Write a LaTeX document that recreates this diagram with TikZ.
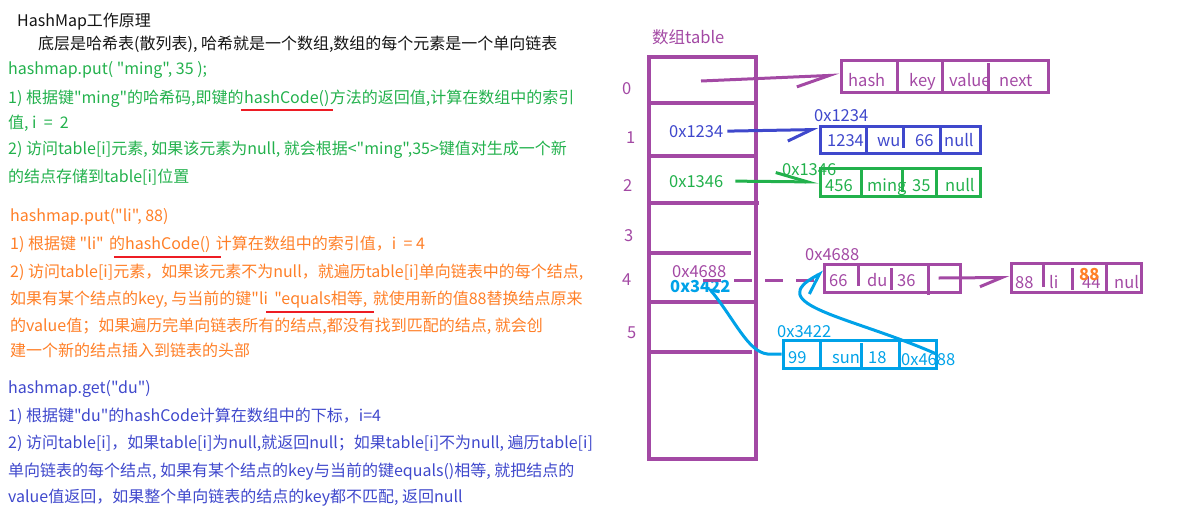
\documentclass[tikz,border=0pt]{standalone}
\usepackage{fontspec}
\setmainfont{Noto Sans CJK SC}[Ligatures=TeXOff]
\usetikzlibrary{positioning,calc,arrows.meta}
\definecolor{mapblack}{RGB}{20,20,20}
\definecolor{mapgreen}{RGB}{34,177,76}
\definecolor{maporange}{RGB}{255,127,39}
\definecolor{mapindigo}{RGB}{63,72,204}
\definecolor{mappurple}{RGB}{163,73,164}
\definecolor{mapcyan}{RGB}{0,162,232}
\definecolor{mapred}{RGB}{237,28,36}

\begin{document}
\begin{tikzpicture}[x=1pt, y=-1pt,
  txt/.style={anchor=base west, inner sep=0pt, font=\fontsize{16}{20}\selectfont},
  lbl/.style={anchor=base west, inner sep=0pt, font=\fontsize{16.5}{20}\selectfont},
  uline/.style={mapred, line width=2.5pt},
  tbl/.style={mappurple, line width=3.5pt},
  lbox/.style={draw=#1, line width=3pt, inner sep=0pt},
  wire/.style={line width=3pt},
]
\useasboundingbox (0,0) rectangle (1185,523);

% left side: notes
\node[txt, mapblack] (head) at (17,26) {HashMap工作原理};
\node[txt, mapblack] (intro) at (38,49) {底层是哈希表(散列表), 哈希就是一个数组,数组的每个元素是一个单向链表};

\node[txt, mapgreen] (g0) at (8,74) {hashmap.put( "ming", 35 );};
\node[txt, mapgreen] (g1a) at (8,103) {1) 根据键"ming"的哈希码,即键的};
\node[txt, mapgreen, base right=0pt of g1a] (g1b) {hashCode()};
\node[txt, mapgreen, base right=0pt of g1b] (g1c) {方法的返回值,计算在数组中的索引};
\node[txt, mapgreen] (g2) at (8,128) {值, i \ = \ 2};
\node[txt, mapgreen] (g3) at (8,154) {2) 访问table[i]元素, 如果该元素为null, 就会根据<"ming",35>键值对生成一个新};
\node[txt, mapgreen] (g4) at (8,182) {的结点存储到table[i]位置};
\draw[uline] ([xshift=-3pt, yshift=-7pt]g1b.base west) -- ([xshift=3pt, yshift=-7pt]g1b.base east);

\node[txt, maporange] (o0) at (10,221) {hashmap.put("li", 88)};
\node[txt, maporange] (o1a) at (10,249) {1) 根据键 "li"};
\node[txt, maporange, base right=5pt of o1a] (o1b) {的hashCode()};
\node[txt, maporange, base right=5pt of o1b] (o1c) {计算在数组中的索引值，i \ = 4};
\node[txt, maporange] (o2) at (10,277) {2) 访问table[i]元素，如果该元素不为null，就遍历table[i]单向链表中的每个结点,};
\node[txt, maporange] (o3a) at (10,304) {如果有某个结点的key, 与当前的键"li};
\node[txt, maporange, base right=6pt of o3a] (o3b) {"equals相等,};
\node[txt, maporange, base right=5pt of o3b] (o3c) {就使用新的值88替换结点原来};
\node[txt, maporange] (o4) at (10,331) {的value值；如果遍历完单向链表所有的结点,都没有找到匹配的结点, 就会创};
\node[txt, maporange] (o5) at (10,356) {建一个新的结点插入到链表的头部};
\draw[uline] ([xshift=5pt, yshift=-8pt]o1b.base west) -- ([xshift=10pt, yshift=-8pt]o1b.base east);
\draw[uline] ([xshift=-8pt, yshift=-8pt]o3b.base west) -- ([xshift=6pt, yshift=-8pt]o3b.base east);

\node[txt, mapindigo] (b0) at (8,393) {hashmap.get("du")};
\node[txt, mapindigo] (b1) at (8,421) {1) 根据键"du"的hashCode计算在数组中的下标，i=4};
\node[txt, mapindigo] (b2) at (8,448) {2) 访问table[i]，如果table[i]为null,就返回null；如果table[i]不为null, 遍历table[i]};
\node[txt, mapindigo] (b3) at (8,476) {单向链表的每个结点, 如果有某个结点的key与当前的键equals()相等, 就把结点的};
\node[txt, mapindigo] (b4) at (8,502) {value值返回，如果整个单向链表的结点的key都不匹配, 返回null};

% right side: table
\node[lbl, mappurple] (ttl) at (652,43) {数组table};
\draw[tbl] (649,57) rectangle (756,459);
\draw[tbl] (649,103) -- (756,103);
\draw[tbl] (649,156) -- (756,156);
\draw[tbl] (647,203) -- (759,203);
\draw[tbl] (649,253) -- (751,253);
\draw[tbl] (649,302) -- (756,302);
\draw[tbl] (649,352) -- (752,352);
\node[lbl, mappurple] (n0) at (622,94) {0};
\node[lbl, mappurple] (n1) at (626,143) {1};
\node[lbl, mappurple] (n2) at (623,191) {2};
\node[lbl, mappurple] (n3) at (624,241) {3};
\node[lbl, mappurple] (n4) at (622,285) {4};
\node[lbl, mappurple] (n5) at (627,338) {5};

\coordinate (p0) at (701,81);
\node[lbl, mapindigo] (r1) at (669,137) {0x1234};
\node[lbl, mapgreen] (r2) at (669,187) {0x1346};
\node[lbl, mappurple] (r4a) at (672,277) {0x4688};
\node[lbl, mapcyan, font=\fontsize{16.5}{20}\selectfont\bfseries] (r4b) at (670,292) {0x3422};
\coordinate (p4) at (703,280);

% entry texts
\node[lbl, mappurple] (e0h) at (848,86) {hash};
\node[lbl, mappurple] (e0k) at (909,86) {key};
\node[lbl, mappurple] (e0v) at (949,86) {value};
\node[lbl, mappurple] (e0n) at (999,86) {next};

\node[lbl, mapindigo] (e1t) at (814,121) {0x1234};
\node[lbl, mapindigo] (e1h) at (827,146) {1234};
\node[lbl, mapindigo] (e1k) at (877,146) {wu};
\node[lbl, mapindigo] (e1v) at (915,146) {66};
\node[lbl, mapindigo] (e1n) at (944,146) {null};

\node[lbl, mapgreen] (e2t) at (782,175) {0x1346};
\node[lbl, mapgreen] (e2h) at (825,191) {456};
\node[lbl, mapgreen] (e2k) at (867,191) {ming};
\node[lbl, mapgreen] (e2v) at (912,191) {35};
\node[lbl, mapgreen] (e2n) at (945,191) {null};

\node[lbl, mappurple] (e4t) at (805,260) {0x4688};
\node[lbl, mappurple] (e4h) at (829,286) {66};
\node[lbl, mappurple] (e4k) at (867,286) {du};
\node[lbl, mappurple] (e4v) at (897,286) {36};

\node[lbl, mappurple] (e5h) at (1015,288) {88};
\node[lbl, mappurple] (e5k) at (1049,288) {li};
\node[lbl, mappurple] (e5v) at (1082,288) {44};
\node[lbl, maporange, font=\fontsize{16.5}{20}\selectfont\bfseries] (e5w) at (1079,280) {88};
\node[lbl, mappurple] (e5n) at (1114,288) {nul};

\node[lbl, mapcyan] (e6t) at (777,337) {0x3422};
\node[lbl, mapcyan] (e6h) at (788,363) {99};
\node[lbl, mapcyan] (e6k) at (832,363) {sun};
\node[lbl, mapcyan] (e6v) at (868,363) {18};
\node[lbl, mapcyan] (e6n) at (901,365) {0x4688};

% entry boxes
\node[lbox=mappurple, minimum width=207pt, minimum height=32pt] (e0) at (944.5,76) {};
\draw[wire, mappurple] (897,60) -- (897,92) (942,60) -- (942,92) (988,63) -- (988,94);
\node[lbox=mapindigo, minimum width=160pt, minimum height=27pt] (e1) at (900,139.5) {};
\draw[wire, mapindigo] (866,126) -- (866,153) (903,126) -- (903,148) (940,128) -- (940,153);
\node[lbox=mapgreen, minimum width=160pt, minimum height=28pt] (e2) at (900,182) {};
\draw[wire, mapgreen] (861,168) -- (861,196) (902,168) -- (902,192) (936,168) -- (936,196);
\node[lbox=mappurple, minimum width=136pt, minimum height=28pt] (e4) at (892,278) {};
\draw[wire, mappurple] (858,264) -- (858,286) (891,268) -- (891,290) (928,264) -- (928,295);
\node[lbox=mappurple, minimum width=130pt, minimum height=29pt] (e5) at (1076,277.5) {};
\draw[wire, mappurple] (1043,263) -- (1043,287) (1072,268) -- (1072,290) (1106,263) -- (1106,292);
\node[lbox=mapcyan, minimum width=153pt, minimum height=28pt] (e6) at (859.5,354) {};
\draw[wire, mapcyan] (820,340) -- (820,368) (861,343) -- (861,368) (899,340) -- (899,368);

% links
\draw[wire, mappurple, -{Straight Barb[harpoon, swap, length=33pt, width=20pt]}] (p0) -- ($(e0.west)+(0,-1)$);
\draw[wire, mapindigo, -{Straight Barb[harpoon, swap, length=24pt, width=22pt]}] ([xshift=4pt]r1.east) -- ($(e1.north west)+(0,5)$);
\draw[wire, mapgreen, -{Straight Barb[harpoon, length=32pt, width=18pt]}] ([xshift=12pt]r2.east) -- (e2.west);
\draw[wire, mappurple, dash pattern=on 18pt off 13pt] (p4) -- ($(e4.west)+(0,2)$);
\draw[wire, mappurple, -{Straight Barb[harpoon, swap, length=22pt, width=18pt]}] ($(e4.east)+(-23,0)$) -- (e5.west);
\draw[wire, mapcyan, -{Straight Barb[harpoon, swap, length=18pt, width=26pt]}] ($(e6.east)+(-1,0)$) .. controls (850,316) and (760,305) .. ($(e4.west)+(1,-6)$);
\draw[wire, mapcyan, -{Straight Barb[harpoon, swap, length=7pt, width=12pt]}] (e6.west) -- ++(-14,0) .. controls (748,352) and (735,320) .. ($(r4b.base west)+(38,-5)$);
\end{tikzpicture}
\end{document}
